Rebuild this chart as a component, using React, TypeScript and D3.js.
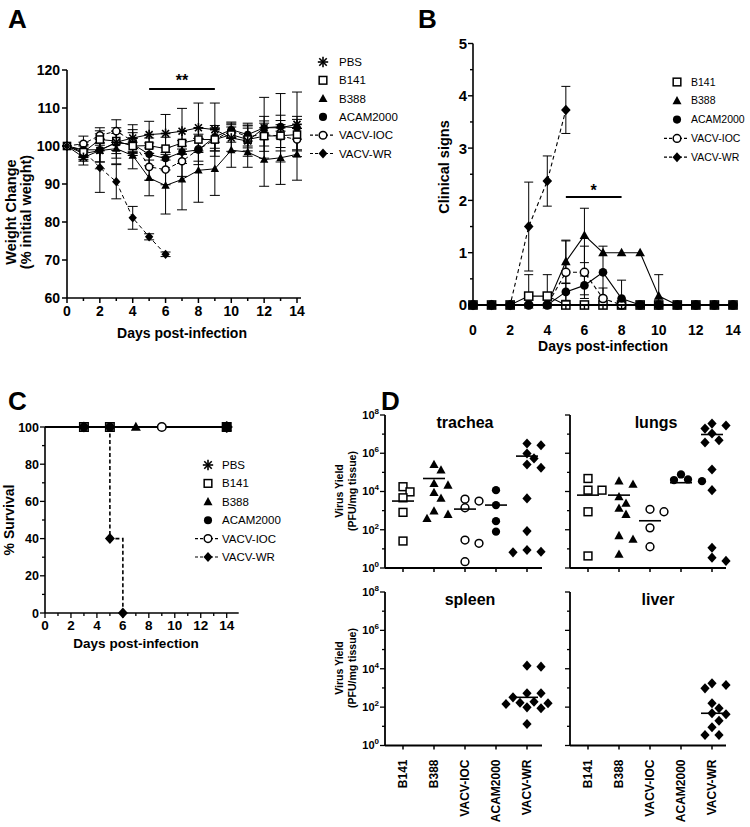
import React from 'react';
import * as d3 from 'd3';

const FONT = '"Liberation Sans", Arial, Helvetica, sans-serif';

const seriesNames = ['PBS', 'B141', 'B388', 'ACAM2000', 'VACV-IOC', 'VACV-WR'];
const days = d3.range(0, 15);

// A: weight change, % of initial weight (mean per day)
const weightPBS = [100, 97.0, 98.8, 101.0, 102.1, 103.0, 103.3, 103.9, 104.8, 104.3, 102.1, 101.3, 104.8, 104.8, 105.7];
const weightB141 = [100, 98.4, 101.7, 101.3, 100.0, 100.1, 99.3, 100.8, 101.7, 101.7, 103.0, 101.7, 102.6, 102.7, 103.0];
const weightB388 = [100, 98.0, 98.8, 99.3, 97.5, 91.6, 89.6, 91.2, 93.6, 94.0, 98.9, 98.4, 96.4, 96.9, 97.8];
const weightACAM = [100, 99.0, 99.0, 100.8, 100.5, 97.8, 96.7, 98.4, 99.0, 102.4, 104.3, 103.0, 104.8, 105.1, 104.8];
const weightIOC = [100, 100.6, 102.8, 103.9, 101.3, 94.5, 93.8, 96.0, 99.1, 101.7, 104.0, 102.5, 103.0, 102.6, 101.7];
const weightWR = [100, 98.8, 94.3, 90.6, 81.1, 76.1, 71.5];

// A: standard deviations
const sdPBS = [0, 2, 3, 3, 3.5, 3.5, 5, 6, 6.5, 7, 3.5, 4, 8, 9, 8.5];
const sdB141 = [0, 2, 1.5, 2.5, 2, 2, 3, 3, 3, 3, 2, 3, 4, 4, 4];
const sdB388 = [0, 2, 3, 4, 3.5, 4.7, 7.5, 8, 8.4, 7, 4.5, 4, 7, 7, 6.8];
const sdACAM = [0, 2, 5, 4, 3, 3, 3, 3, 3, 3, 2, 3, 3, 3, 3];
const sdIOC = [0, 2, 2, 3, 3, 3.5, 4, 4, 4, 3, 2, 3, 3, 3, 3];
const sdWR = [0, 1.5, 6.5, 4.5, 3, 0.8, 0.6];

// B: clinical signs (mean per day)
const signsB141 = [0, 0, 0, 0.17, 0.17, 0, 0, 0, 0, 0, 0, 0, 0, 0, 0];
const signsB388 = [0, 0, 0, 0, 0, 0.83, 1.33, 1, 1, 1, 0.17, 0, 0, 0, 0];
const signsACAM = [0, 0, 0, 0, 0, 0.25, 0.375, 0.625, 0.125, 0, 0, 0, 0, 0, 0];
const signsIOC = [0, 0, 0, 0, 0, 0.625, 0.625, 0.125, 0, 0, 0, 0, 0, 0, 0];
const signsWR = [0, 0, 0, 1.5, 2.37, 3.73];

const semB141 = [0, 0, 0, 0.41, 0.41, 0, 0, 0, 0, 0, 0, 0, 0, 0, 0];
const semB388 = [0, 0, 0, 0, 0, 0.41, 0.52, 0, 0, 0, 0.41, 0, 0, 0, 0];
const semACAM = [0, 0, 0, 0, 0, 0.16, 0.18, 0.5, 0.35, 0, 0, 0, 0, 0, 0];
const semIOC = [0, 0, 0, 0, 0, 0.6, 0.5, 0.2, 0, 0, 0, 0, 0, 0, 0];
const semWR = [0, 0, 0, 0.85, 0.48, 0.45];

// C: survival (event days and % surviving)
const survPBS = { t: [0, 14], v: [100, 100] };
const survB141 = { t: [0, 3, 5, 14], v: [100, 100, 100, 100] };
const survB388 = { t: [0, 7, 14], v: [100, 100, 100] };
const survACAM = { t: [0, 3, 5, 14], v: [100, 100, 100, 100] };
const survIOC = { t: [0, 9, 14], v: [100, 100, 100] };
const survWR = { t: [0, 3, 5, 6], v: [100, 100, 40, 0] };

// D: virus yield, log10 PFU/mg tissue
const organCats = ['B141', 'B388', 'VACV-IOC', 'ACAM2000', 'VACV-WR'];
const tracheaLog = [
  [4.25, 3.98, 3.67, 2.91, 1.41],
  [5.41, 5.12, 4.42, 4.33, 3.95, 3.64, 2.98, 2.8, 2.59],
  [3.6, 3.5, 3.15, 1.46, 1.29, 0.33],
  [4.07, 3.29, 2.45, 1.9],
  [6.51, 6.42, 5.99, 5.73, 5.41, 5.24, 3.64, 1.93, 0.94, 0.82, 0.85],
];
const tracheaMedian = [3.5, 4.68, 3.08, 3.29, 5.85];
const lungsLog = [
  [4.68, 4.07, 4.07, 2.94, 0.63],
  [4.54, 4.37, 3.72, 3.38, 3.12, 2.8, 1.69, 1.5, 0.72],
  [3.07, 2.94, 2.1, 1.11],
  [4.89, 4.63, 4.6, 4.54],
  [7.55, 7.45, 7.29, 7.03, 6.68, 6.56, 5.15, 4.07, 1.06, 0.54, 0.37],
];
const lungsMedian = [3.81, 3.81, 2.47, 4.46, 6.98];
const spleenLog = [[], [], [], [], [4.16, 4.11, 2.72, 2.72, 2.51, 2.28, 2.23, 2.2, 2.16, 1.99, 1.94, 1.12]];
const spleenMedian = [null, null, null, null, 2.51];
const liverLog = [[], [], [], [], [3.24, 3.15, 2.98, 2.2, 1.94, 1.68, 1.63, 1.29, 0.95, 0.55, 0.55]];
const liverMedian = [null, null, null, null, 1.68];

const markerOf: Record<string, string> = {
  PBS: 'star', B141: 'square', B388: 'triangle', ACAM2000: 'circle', 'VACV-IOC': 'ocircle', 'VACV-WR': 'diamond',
};
const dashedSeries = (n: string) => n === 'VACV-IOC' || n === 'VACV-WR';

function Marker({ kind, x, y, r }: { kind: string; x: number; y: number; r: number }) {
  if (kind === 'star') {
    const a = r * 1.15, b = a * 0.72;
    return (
      <g stroke="black" strokeWidth={1.6}>
        <line x1={x - a} y1={y} x2={x + a} y2={y} />
        <line x1={x} y1={y - a} x2={x} y2={y + a} />
        <line x1={x - b} y1={y - b} x2={x + b} y2={y + b} />
        <line x1={x - b} y1={y + b} x2={x + b} y2={y - b} />
      </g>
    );
  }
  if (kind === 'square')
    return <rect x={x - r * 0.85} y={y - r * 0.85} width={r * 1.7} height={r * 1.7} fill="white" stroke="black" strokeWidth={1.5} />;
  if (kind === 'triangle')
    return <path d={`M${x},${y - r * 1.05}L${x + r},${y + r * 0.75}L${x - r},${y + r * 0.75}Z`} fill="black" />;
  if (kind === 'circle') return <circle cx={x} cy={y} r={r * 0.9} fill="black" />;
  if (kind === 'ocircle') return <circle cx={x} cy={y} r={r * 0.85} fill="white" stroke="black" strokeWidth={1.5} />;
  return <path d={`M${x},${y - r * 1.1}L${x + r},${y}L${x},${y + r * 1.1}L${x - r},${y}Z`} fill="black" />;
}

function LegendRow({ name, x, y, tx, fs = 11.5 }: { name: string; x: number; y: number; tx: number; fs?: number }) {
  return (
    <g>
      {dashedSeries(name) && (
        <line x1={x - 13} x2={x + 11} y1={y} y2={y} stroke="black" strokeWidth={1.2} strokeDasharray="3,2" />
      )}
      <Marker kind={markerOf[name]} x={x} y={y} r={4.5} />
      <text x={tx} y={y} dy="0.35em" fontSize={fs}>{name}</text>
    </g>
  );
}

function ErrorBar({ x, y0, y1, w }: { x: number; y0: number; y1: number; w: number }) {
  return (
    <g stroke="black" strokeWidth={1}>
      <line x1={x} x2={x} y1={y0} y2={y1} />
      <line x1={x - w} x2={x + w} y1={y0} y2={y0} />
      <line x1={x - w} x2={x + w} y1={y1} y2={y1} />
    </g>
  );
}

function PanelA() {
  const x = d3.scaleLinear().domain([0, 14]).range([67, 297]);
  const y = d3.scaleLinear().domain([60, 120]).range([298, 70]);
  const means = [weightPBS, weightB141, weightB388, weightACAM, weightIOC, weightWR];
  const sds = [sdPBS, sdB141, sdB388, sdACAM, sdIOC, sdWR];
  const order = [5, 4, 2, 3, 1, 0];
  const line = d3.line<number>().x((_, i) => x(i)).y((d) => y(d));
  return (
    <g>
      <text x={8} y={28} fontSize={26} fontWeight="bold">A</text>
      {order.map((s) => (
        <g key={'e' + s}>
          {means[s].map((m, i) =>
            sds[s][i] > 0 ? <ErrorBar key={i} x={x(i)} y0={y(m + sds[s][i])} y1={y(m - sds[s][i])} w={5} /> : null
          )}
        </g>
      ))}
      {order.map((s) => (
        <path key={'l' + s} d={line(means[s]) || ''} fill="none" stroke="black" strokeWidth={1}
          strokeDasharray={dashedSeries(seriesNames[s]) ? '4,3' : undefined} />
      ))}
      {order.map((s) => (
        <g key={'m' + s}>
          {means[s].map((m, i) => (
            <Marker key={i} kind={markerOf[seriesNames[s]]} x={x(i)} y={y(m)} r={4.2} />
          ))}
        </g>
      ))}
      <line x1={x(0)} x2={x(0)} y1={y(60)} y2={y(120)} stroke="black" strokeWidth={1.6} />
      <line x1={x(0)} x2={x(14) + 4} y1={y(60)} y2={y(60)} stroke="black" strokeWidth={1.6} />
      {d3.range(60, 121, 10).map((t) => (
        <g key={t}>
          <line x1={x(0) - 5} x2={x(0)} y1={y(t)} y2={y(t)} stroke="black" strokeWidth={1.5} />
          <text x={x(0) - 7} y={y(t)} dy="0.36em" textAnchor="end" fontSize={14} fontWeight="bold">{t}</text>
        </g>
      ))}
      {days.map((d) => (
        <g key={d}>
          <line x1={x(d)} x2={x(d)} y1={y(60)} y2={y(60) + (d % 2 === 0 ? 5 : 3)} stroke="black" strokeWidth={1.5} />
          {d % 2 === 0 && (
            <text x={x(d)} y={y(60) + 18} textAnchor="middle" fontSize={14} fontWeight="bold">{d}</text>
          )}
        </g>
      ))}
      <text x={182} y={338} textAnchor="middle" fontSize={14} fontWeight="bold">Days post-infection</text>
      <text transform="translate(16,212) rotate(-90)" textAnchor="middle" fontSize={14.5} fontWeight="bold">Weight Change</text>
      <text transform="translate(31,212) rotate(-90)" textAnchor="middle" fontSize={14.5} fontWeight="bold">(% initial weight)</text>
      <line x1={x(5)} x2={x(9)} y1={89} y2={89} stroke="black" strokeWidth={2} />
      <text x={(x(5) + x(9)) / 2} y={86} textAnchor="middle" fontSize={16} fontWeight="bold">**</text>
      {seriesNames.map((n, i) => (
        <LegendRow key={n} name={n} x={323} y={62 + i * 18.3} tx={339} />
      ))}
    </g>
  );
}

function PanelB() {
  const x = d3.scaleLinear().domain([0, 14]).range([473, 733]);
  const y = d3.scaleLinear().domain([0, 5]).range([305, 43.5]);
  const names = ['B141', 'VACV-IOC', 'B388', 'ACAM2000', 'VACV-WR'];
  const means = [signsB141, signsIOC, signsB388, signsACAM, signsWR];
  const sems = [semB141, semIOC, semB388, semACAM, semWR];
  const line = d3.line<number>().x((_, i) => x(i)).y((d) => y(d));
  return (
    <g>
      <text x={418} y={28} fontSize={26} fontWeight="bold">B</text>
      {means.map((arr, s) => (
        <g key={'e' + s}>
          {arr.map((m, i) =>
            sems[s][i] > 0 ? (
              <ErrorBar key={i} x={x(i)} y0={y(m + sems[s][i])} y1={y(Math.max(0, m - sems[s][i]))} w={4.5} />
            ) : null
          )}
        </g>
      ))}
      {means.map((arr, s) => (
        <path key={'l' + s} d={line(arr) || ''} fill="none" stroke="black" strokeWidth={1.1}
          strokeDasharray={dashedSeries(names[s]) ? '4,3' : undefined} />
      ))}
      {means.map((arr, s) => (
        <g key={'m' + s}>
          {arr.map((m, i) => (
            <Marker key={i} kind={markerOf[names[s]]} x={x(i)} y={y(m)} r={4.8} />
          ))}
        </g>
      ))}
      <line x1={x(0)} x2={x(0)} y1={y(0)} y2={y(5)} stroke="black" strokeWidth={1.6} />
      <line x1={x(0)} x2={x(14) + 4} y1={y(0)} y2={y(0)} stroke="black" strokeWidth={1.8} />
      {d3.range(0, 5.01, 0.5).map((t) => (
        <g key={t}>
          <line x1={x(0) - (t % 1 === 0 ? 5 : 3)} x2={x(0)} y1={y(t)} y2={y(t)} stroke="black" strokeWidth={1.4} />
          {t % 1 === 0 && (
            <text x={x(0) - 6} y={y(t)} dy="0.36em" textAnchor="end" fontSize={15} fontWeight="bold">{t}</text>
          )}
        </g>
      ))}
      {days.map((d) => (
        <g key={d}>
          <line x1={x(d)} x2={x(d)} y1={y(0)} y2={y(0) + 4} stroke="black" strokeWidth={1.4} />
          {d % 2 === 0 && (
            <text x={x(d)} y={y(0) + 30} textAnchor="middle" fontSize={14} fontWeight="bold">{d}</text>
          )}
        </g>
      ))}
      <text x={603} y={351} textAnchor="middle" fontSize={14} fontWeight="bold">Days post-infection</text>
      <text transform="translate(449,167) rotate(-90)" textAnchor="middle" fontSize={14.5} fontWeight="bold">Clinical signs</text>
      <line x1={x(5)} x2={x(8)} y1={197} y2={197} stroke="black" strokeWidth={2} />
      <text x={(x(5) + x(8)) / 2} y={196} textAnchor="middle" fontSize={16} fontWeight="bold">*</text>
      {['B141', 'B388', 'ACAM2000', 'VACV-IOC', 'VACV-WR'].map((n, i) => (
        <LegendRow key={n} name={n} x={677} y={82 + i * 18.8} tx={691} fs={10.5} />
      ))}
    </g>
  );
}

function PanelC() {
  const x = d3.scaleLinear().domain([0, 14]).range([45, 226.7]);
  const y = d3.scaleLinear().domain([0, 100]).range([613, 427]);
  const curves = [survB141, survB388, survIOC, survACAM, survWR, survPBS];
  const names = ['B141', 'B388', 'VACV-IOC', 'ACAM2000', 'VACV-WR', 'PBS'];
  const step = d3.line<number>().curve(d3.curveStepAfter);
  return (
    <g>
      <text x={8} y={410} fontSize={26} fontWeight="bold">C</text>
      {curves.map((c, s) => (
        <path key={'l' + s}
          d={step(c.t.map((t, i) => [x(t), y(c.v[i])] as [number, number])) || ''}
          fill="none" stroke="black" strokeWidth={dashedSeries(names[s]) ? 1.6 : 1.8}
          strokeDasharray={dashedSeries(names[s]) ? '4,2.5' : undefined} />
      ))}
      {curves.map((c, s) => (
        <g key={'m' + s}>
          {c.t.map((t, i) => (t > 0 ? <Marker key={i} kind={markerOf[names[s]]} x={x(t)} y={y(c.v[i])} r={5} /> : null))}
        </g>
      ))}
      <line x1={x(0)} x2={x(0)} y1={y(0)} y2={y(100)} stroke="black" strokeWidth={1.6} />
      <line x1={x(0)} x2={x(14) + 12} y1={y(0)} y2={y(0)} stroke="black" strokeWidth={1.6} />
      {d3.range(0, 101, 10).map((t) => (
        <g key={t}>
          <line x1={x(0) - (t % 20 === 0 ? 5 : 3)} x2={x(0)} y1={y(t)} y2={y(t)} stroke="black" strokeWidth={1.3} />
          {t % 20 === 0 && (
            <text x={x(0) - 6} y={y(t)} dy="0.36em" textAnchor="end" fontSize={12.5} fontWeight="bold">{t}</text>
          )}
        </g>
      ))}
      {d3.range(0, 15).map((d) => (
        <g key={d}>
          <line x1={x(d)} x2={x(d)} y1={y(0)} y2={y(0) + (d % 2 === 0 ? 5 : 3)} stroke="black" strokeWidth={1.3} />
          {d % 2 === 0 && (
            <text x={x(d)} y={y(0) + 17} textAnchor="middle" fontSize={13.5} fontWeight="bold">{d}</text>
          )}
        </g>
      ))}
      <text x={136} y={648} textAnchor="middle" fontSize={13.5} fontWeight="bold">Days post-infection</text>
      <text transform="translate(14,520) rotate(-90)" textAnchor="middle" fontSize={14} fontWeight="bold">% Survival</text>
      {seriesNames.map((n, i) => (
        <LegendRow key={n} name={n} x={208} y={465 + i * 18.4} tx={222} />
      ))}
    </g>
  );
}

function dodge(vals: number[], yOf: (v: number) => number, cx: number) {
  const placed: { x: number; y: number }[] = [];
  const out: { x: number; y: number }[] = new Array(vals.length);
  const idx = vals.map((_, i) => i).sort((a, b) => vals[b] - vals[a]);
  for (const i of idx) {
    const py = yOf(vals[i]);
    let px = cx;
    for (const k of [0, 1, -1, 2, -2, 3, -3]) {
      const tx = cx + k * 7;
      if (placed.every((p) => Math.hypot(p.x - tx, p.y - py) >= 8.5)) { px = tx; break; }
    }
    placed.push({ x: px, y: py });
    out[i] = { x: px, y: py };
  }
  return out;
}

function OrganPlot({ left, right, bottom, top, data, medians, title, titleX, labels, cats }: {
  left: number; right: number; bottom: number; top: number; data: number[][]; medians: (number | null)[];
  title: string; titleX: number; labels: boolean; cats: boolean;
}) {
  const y = d3.scaleLog().domain([1, 1e8]).range([bottom, top]);
  const x = d3.scalePoint<string>().domain(organCats).range([left + 18, left + 142]);
  const kinds = organCats.map((c) => markerOf[c]);
  return (
    <g>
      <text x={titleX} y={top + 13} textAnchor="middle" fontSize={16} fontWeight="bold">{title}</text>
      <line x1={left} x2={left} y1={bottom} y2={top} stroke="black" strokeWidth={1.8} />
      <line x1={left} x2={right} y1={bottom} y2={bottom} stroke="black" strokeWidth={1.8} />
      {d3.range(0, 9).map((e) => (
        <g key={e}>
          <line x1={left - (e % 2 === 0 ? 5 : 3)} x2={left} y1={y(Math.pow(10, e))} y2={y(Math.pow(10, e))} stroke="black" strokeWidth={1.3} />
          {labels && e % 2 === 0 && (
            <text x={left - 6} y={y(Math.pow(10, e))} dy="0.36em" textAnchor="end" fontSize={11} fontWeight="bold">
              10<tspan dy="-5" fontSize={8}>{e}</tspan>
            </text>
          )}
        </g>
      ))}
      {organCats.map((c, ci) => (
        <g key={c}>
          <line x1={x(c)} x2={x(c)} y1={bottom} y2={bottom + 4} stroke="black" strokeWidth={1.5} />
          {cats && (
            <text transform={`translate(${(x(c) || 0) + 4},${bottom + 14}) rotate(-90)`} textAnchor="end"
              fontSize={12} fontWeight="bold">{c}</text>
          )}
          {dodge(data[ci], (v) => y(Math.pow(10, v)), x(c) || 0).map((p, i) => (
            <Marker key={i} kind={kinds[ci]} x={p.x} y={p.y} r={4.6} />
          ))}
          {medians[ci] !== null && (
            <line x1={(x(c) || 0) - 11} x2={(x(c) || 0) + 11} y1={y(Math.pow(10, medians[ci] as number))}
              y2={y(Math.pow(10, medians[ci] as number))} stroke="black" strokeWidth={1.6} />
          )}
        </g>
      ))}
    </g>
  );
}

function PanelD() {
  return (
    <g>
      <text x={381} y={410} fontSize={26} fontWeight="bold">D</text>
      <OrganPlot left={385} right={542} bottom={568} top={415} data={tracheaLog} medians={tracheaMedian}
        title="trachea" titleX={465} labels cats={false} />
      <OrganPlot left={570} right={726} bottom={568} top={415} data={lungsLog} medians={lungsMedian}
        title="lungs" titleX={656} labels={false} cats={false} />
      <OrganPlot left={385} right={542} bottom={745.5} top={592} data={spleenLog} medians={spleenMedian}
        title="spleen" titleX={470} labels cats />
      <OrganPlot left={570} right={726} bottom={745.5} top={592} data={liverLog} medians={liverMedian}
        title="liver" titleX={658} labels={false} cats />
      {[491, 668].map((cy) => (
        <g key={cy}>
          <text transform={`translate(343,${cy}) rotate(-90)`} textAnchor="middle" fontSize={10.5} fontWeight="bold">Virus Yield</text>
          <text transform={`translate(356,${cy}) rotate(-90)`} textAnchor="middle" fontSize={10.5} fontWeight="bold">(PFU/mg tissue)</text>
        </g>
      ))}
    </g>
  );
}

export default function App() {
  return (
    <svg width={750} height={827} style={{ position: 'absolute', left: 0, top: 0, display: 'block' }} fontFamily={FONT}>
      <rect width={750} height={827} fill="white" />
      <PanelA />
      <PanelB />
      <PanelC />
      <PanelD />
    </svg>
  );
}
